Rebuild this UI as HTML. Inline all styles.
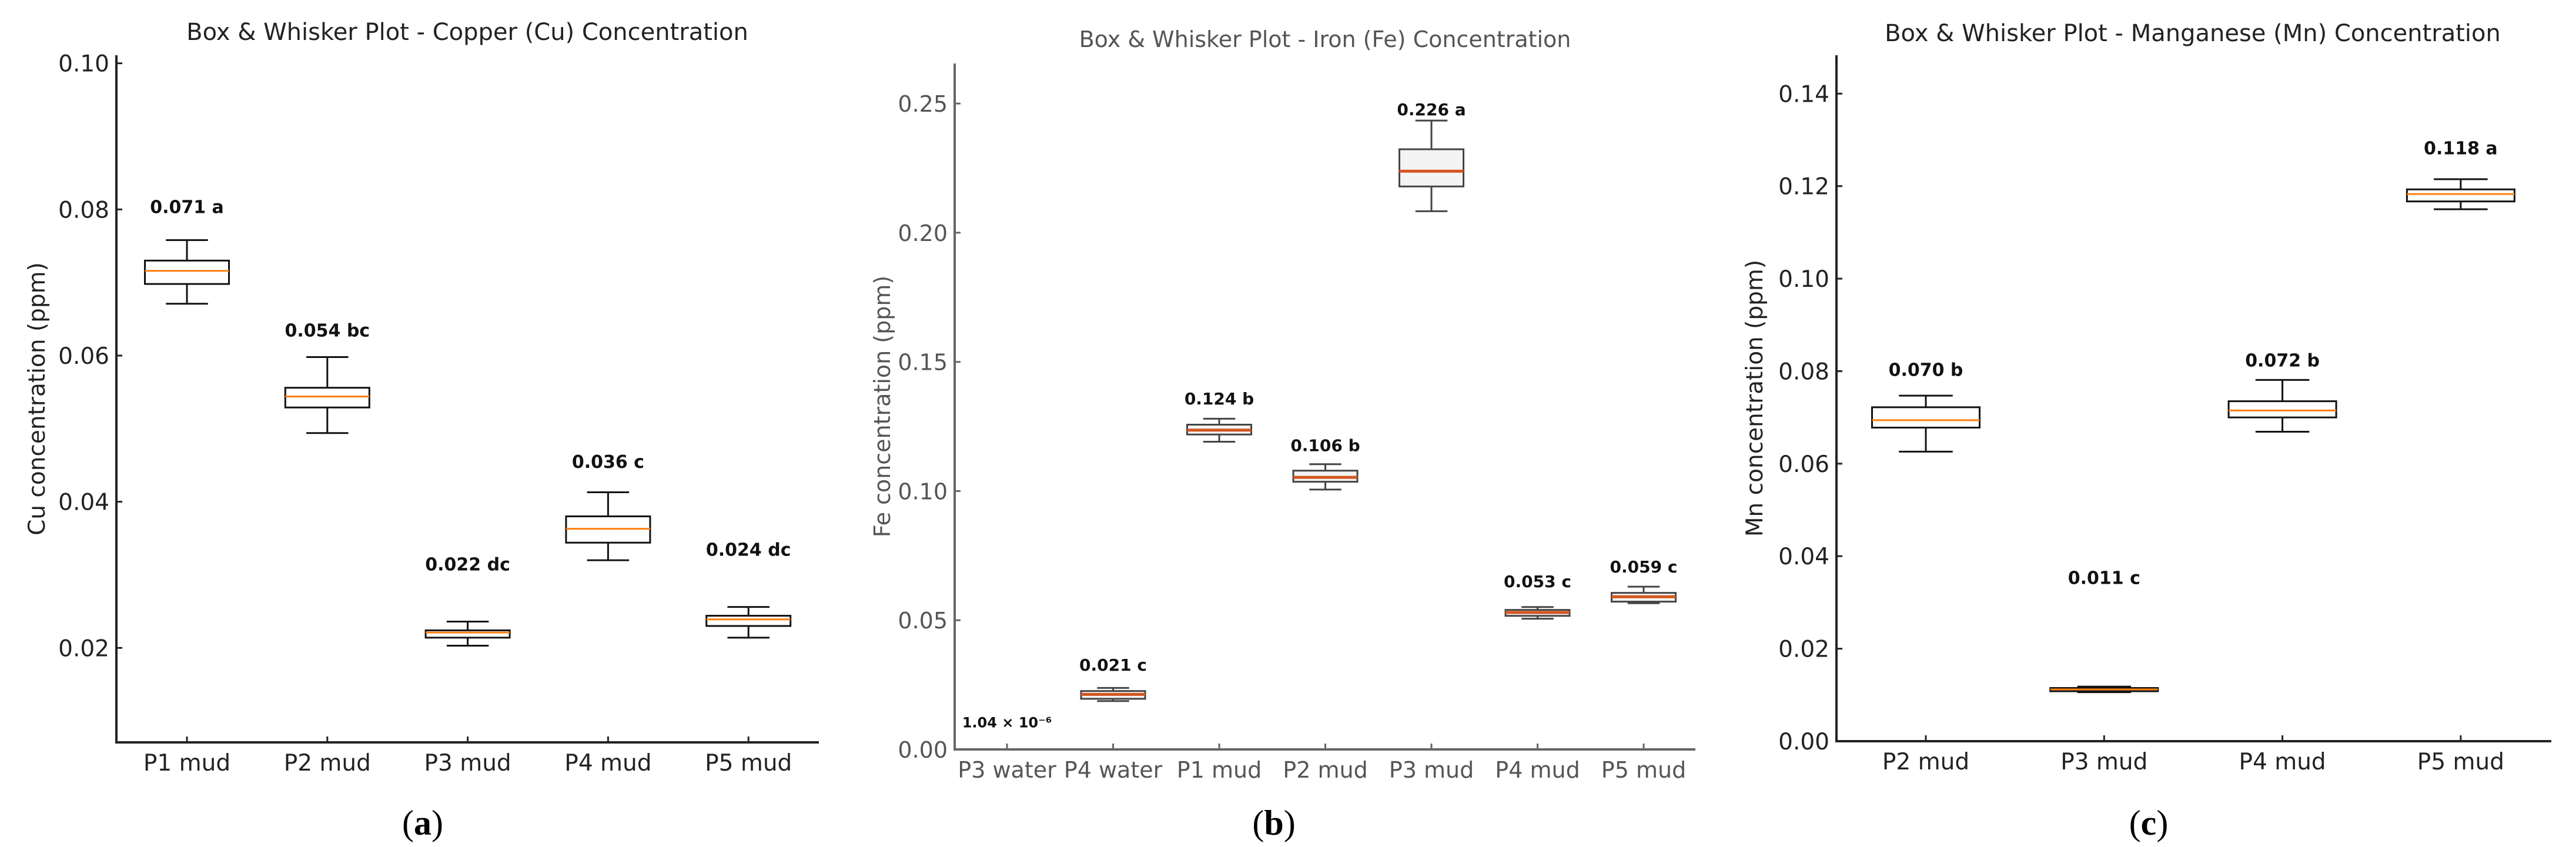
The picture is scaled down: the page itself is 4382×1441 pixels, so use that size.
<!DOCTYPE html>
<html><head><meta charset="utf-8"><style>
html,body{margin:0;padding:0;background:#fff;}
svg{display:block;}
</style></head><body>
<svg id="fig" width="4382" height="1441" viewBox="0 0 4382 1441" xmlns="http://www.w3.org/2000/svg"></svg>
<script>
// ---- Panel (a) Copper ----
const cuCats = ["P1 mud","P2 mud","P3 mud","P4 mud","P5 mud"];
const cuWhiskHi = [0.0758,0.0598,0.0236,0.0413,0.0256];
const cuQ3 = [0.0730,0.0556,0.0224,0.0380,0.0244];
const cuMed = [0.0716,0.0544,0.0221,0.0363,0.0239];
const cuQ1 = [0.0698,0.0529,0.0214,0.0344,0.0230];
const cuWhiskLo = [0.0671,0.0494,0.0203,0.0320,0.0214];
const cuLabels = ["0.071 a","0.054 bc","0.022 dc","0.036 c","0.024 dc"];
const cuLabelAt = [0.0804,0.0635,0.0315,0.0455,0.0335];
const cuTicks = [0.02,0.04,0.06,0.08,0.10];
const cuTickLabels = ["0.02","0.04","0.06","0.08","0.10"];

// ---- Panel (b) Iron ----
const feCats = ["P3 water","P4 water","P1 mud","P2 mud","P3 mud","P4 mud","P5 mud"];
const feWhiskHi = [null,0.0238,0.1280,0.1104,0.2434,0.0551,0.0630];
const feQ3 = [null,0.0226,0.1257,0.1079,0.2323,0.0540,0.0606];
const feMed = [null,0.0213,0.1236,0.1053,0.2238,0.0530,0.0591];
const feQ1 = [null,0.0196,0.1219,0.1036,0.2179,0.0517,0.0572];
const feWhiskLo = [null,0.0187,0.1191,0.1006,0.2083,0.0506,0.0566];
const feLabels = ["1.04 × 10⁻⁶","0.021 c","0.124 b","0.106 b","0.226 a","0.053 c","0.059 c"];
const feLabelAt = [0.0110,0.0330,0.1360,0.1180,0.2480,0.0653,0.0710];
const feTicks = [0,0.05,0.10,0.15,0.20,0.25];
const feTickLabels = ["0.00","0.05","0.10","0.15","0.20","0.25"];

// ---- Panel (c) Manganese ----
const mnCats = ["P2 mud","P3 mud","P4 mud","P5 mud"];
const mnWhiskHi = [0.0747,0.0118,0.0781,0.1215];
const mnQ3 = [0.0722,0.0115,0.0735,0.1193];
const mnMed = [0.0694,0.0112,0.0715,0.1183];
const mnQ1 = [0.0678,0.0108,0.0700,0.1167];
const mnWhiskLo = [0.0626,0.0106,0.0669,0.1150];
const mnLabels = ["0.070 b","0.011 c","0.072 b","0.118 a"];
const mnLabelAt = [0.0804,0.0354,0.0824,0.1283];
const mnTicks = [0,0.02,0.04,0.06,0.08,0.10,0.12,0.14];
const mnTickLabels = ["0.00","0.02","0.04","0.06","0.08","0.10","0.12","0.14"];

const NS="http://www.w3.org/2000/svg";
const svg=document.getElementById('fig');
function mk(tag,attrs,parent,text){
  const e=document.createElementNS(NS,tag);
  for(const k in attrs)e.setAttribute(k,attrs[k]);
  if(text!==undefined)e.textContent=text;
  (parent||svg).appendChild(e);return e;
}
function panel(p){
  const g=mk('g',{});
  
  
  const y=v=>p.y0+(v-p.vmin)/(p.vmax-p.vmin)*(p.y1-p.y0);
  const x=i=>p.xFirst+i*p.xStep;
  const ff=p.font;
  const t=mk('text',{x:p.titleX,y:p.titleY,'text-anchor':'middle','font-size':p.titleSize,fill:p.textCol,'font-family':ff},g,p.title);
  
  
  const yl=mk('text',{x:0,y:0,transform:`translate(${p.ylabelX},${(p.y0+p.y1)/2}) rotate(-90)`,'text-anchor':'middle','font-size':p.fs,fill:p.textCol,'font-family':ff},g,p.ylabel);
  
  
  const ax=mk('path',{d:`M${p.axX},${p.y1} L${p.axX},${p.y0} L${p.axEnd},${p.y0}`,fill:'none',stroke:p.axCol,'stroke-width':4},g);
  
  
  p.ticks.forEach((v,i)=>{
    const yy=y(v);
    const tk=mk('line',{x1:p.axX,x2:p.axX+10,y1:yy,y2:yy,stroke:p.axCol,'stroke-width':3},g);
    
    
    const tl=mk('text',{x:p.axX-12,y:yy+14,'text-anchor':'end','font-size':p.fs,fill:p.textCol,'font-family':ff},g,p.tickLabels[i]);
    
    
  });
  p.cats.forEach((c,i)=>{
    const xx=x(i);
    const tk=mk('line',{x1:xx,x2:xx,y1:p.y0,y2:p.y0-10,stroke:p.axCol,'stroke-width':3},g);
    
    
    const xl=mk('text',{x:xx,y:p.y0+48,'text-anchor':'middle','font-size':p.fs,fill:p.textCol,'font-family':ff},g,c);
    
    
    const lb=mk('text',{x:xx,y:y(p.labelAt[i])+11,'text-anchor':'middle','font-size':p.labSize[i]||30,'font-weight':'bold',fill:'#111','font-family':ff},g,p.labels[i]);
    
    
    if(p.hi[i]===null)return;
    const bg=mk('g',{},g);
    
    
    const hw=p.boxW/2, cw=p.boxW/4;
    mk('line',{x1:xx,x2:xx,y1:y(p.hi[i]),y2:y(p.q3[i]),stroke:p.boxCol,'stroke-width':3},bg);
    mk('line',{x1:xx,x2:xx,y1:y(p.q1[i]),y2:y(p.lo[i]),stroke:p.boxCol,'stroke-width':3},bg);
    mk('line',{x1:xx-cw,x2:xx+cw,y1:y(p.hi[i]),y2:y(p.hi[i]),stroke:p.boxCol,'stroke-width':3},bg);
    mk('line',{x1:xx-cw,x2:xx+cw,y1:y(p.lo[i]),y2:y(p.lo[i]),stroke:p.boxCol,'stroke-width':3},bg);
    mk('rect',{x:xx-hw,y:y(p.q3[i]),width:p.boxW,height:Math.max(1,y(p.q1[i])-y(p.q3[i])),fill:p.boxFill,stroke:p.boxCol,'stroke-width':3},bg);
    mk('line',{x1:xx-hw,x2:xx+hw,y1:y(p.med[i]),y2:y(p.med[i]),stroke:p.medCol,'stroke-width':p.medW},bg);
  });
  const sub=mk('text',{x:p.subX,y:1420,'text-anchor':'middle','font-size':60,fill:'#000','font-family':'"Liberation Serif", serif'},g);
  
  
  mk('tspan',{},sub,'(');
  mk('tspan',{'font-weight':'bold'},sub,p.sub);
  mk('tspan',{},sub,')');
}
const DJ='"DejaVu Sans", "Liberation Sans", sans-serif';
panel({id:'copper',title:'Box & Whisker Plot - Copper (Cu) Concentration',titleX:795,titleY:68,titleSize:40,font:DJ,fs:39,
  ylabel:'Cu concentration (ppm)',ylabelX:76,y0:1263,y1:94,vmin:0.00707,vmax:0.1011,axX:198,axEnd:1393,
  xFirst:318,xStep:238.8,boxW:143,cats:cuCats,hi:cuWhiskHi,q3:cuQ3,med:cuMed,q1:cuQ1,lo:cuWhiskLo,
  labels:cuLabels,labelAt:cuLabelAt,labSize:[],ticks:cuTicks,tickLabels:cuTickLabels,
  textCol:'#222',axCol:'#222',boxCol:'#111',boxFill:'none',medCol:'#ff7f0e',medW:3,sub:'a',subX:719});
panel({id:'iron',title:'Box & Whisker Plot - Iron (Fe) Concentration',titleX:2254,titleY:80,titleSize:38,font:DJ,fs:38,
  ylabel:'Fe concentration (ppm)',ylabelX:1514,y0:1275,y1:108,vmin:0,vmax:0.2655,axX:1624,axEnd:2884,
  xFirst:1713,xStep:180.5,boxW:109,cats:feCats,hi:feWhiskHi,q3:feQ3,med:feMed,q1:feQ1,lo:feWhiskLo,
  labels:feLabels,labelAt:feLabelAt,labSize:[24,28,28,28,28,28,28],ticks:feTicks,tickLabels:feTickLabels,
  textCol:'#555',axCol:'#666',boxCol:'#444',boxFill:'#f4f4f4',medCol:'#d4561f',medW:5,sub:'b',subX:2167});
panel({id:'manganese',title:'Box & Whisker Plot - Manganese (Mn) Concentration',titleX:3730,titleY:70,titleSize:40,font:DJ,fs:39,
  ylabel:'Mn concentration (ppm)',ylabelX:2998,y0:1261,y1:94,vmin:0,vmax:0.1483,axX:3124,axEnd:4340,
  xFirst:3276,xStep:303.3,boxW:183,cats:mnCats,hi:mnWhiskHi,q3:mnQ3,med:mnMed,q1:mnQ1,lo:mnWhiskLo,
  labels:mnLabels,labelAt:mnLabelAt,labSize:[],ticks:mnTicks,tickLabels:mnTickLabels,
  textCol:'#222',axCol:'#222',boxCol:'#111',boxFill:'none',medCol:'#ff7f0e',medW:3,sub:'c',subX:3655});
</script>
</body></html>
